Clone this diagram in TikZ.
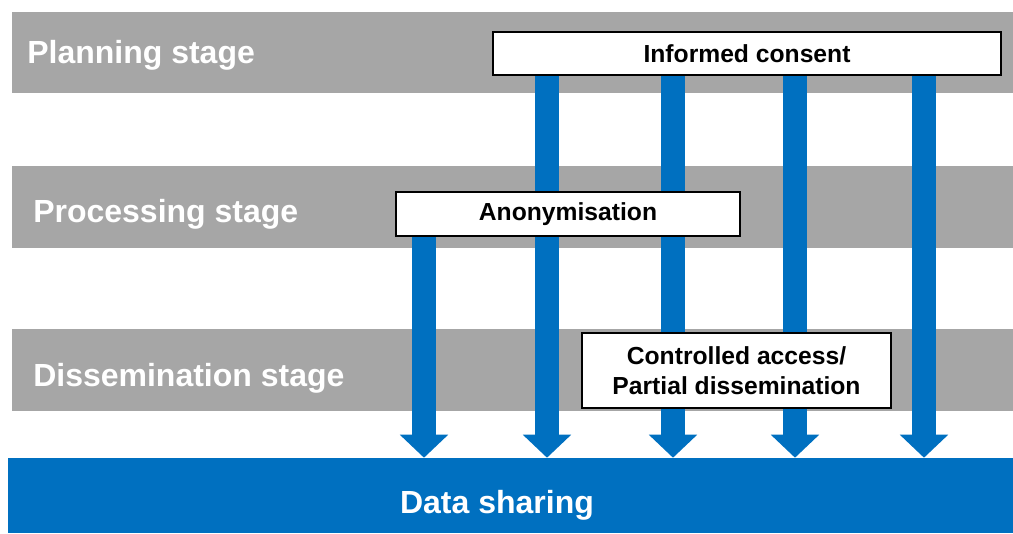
\documentclass[tikz,border=0pt]{standalone}
\usepackage{fontspec}
\setmainfont{Liberation Sans}
\usetikzlibrary{arrows.meta}
\definecolor{stageGray}{HTML}{A6A6A6}
\definecolor{shareBlue}{HTML}{0070C0}
\pgfdeclarelayer{bands}
\pgfdeclarelayer{flows}
\pgfsetlayers{bands,flows,main}
\tikzset{%
	band/.style     = {fill=stageGray}, % stage band
	stage/.style    = {anchor=base west, inner sep=0pt, text=white, font=\fontsize{24}{28}\selectfont\bfseries},
	measure/.style  = {draw=black, line width=1pt, fill=white, rectangle, align=center, inner sep=0pt, font=\fontsize{18.5}{22.5}\selectfont\bfseries},
	sharebar/.style = {fill=shareBlue, rectangle, inner sep=0pt},
	flow/.style     = {draw=shareBlue, line width=18pt, -{Triangle[width=35.25pt,length=17.25pt]}},
}

\begin{document}
\begin{tikzpicture}[x=0.75pt,y=-0.75pt]
	\useasboundingbox (0,0) rectangle (1013,533);
	% stage bands
	\begin{pgfonlayer}{bands}
		\path[band] (12,12) rectangle (1013,93);
		\path[band] (12,166) rectangle (1013,248);
		\path[band] (12,329) rectangle (1013,411);
	\end{pgfonlayer}
	\node [stage] (plan) at (27,63) {Planning stage};
	\node [stage] (proc) at (33,222) {Processing stage};
	\node [stage] (diss) at (33,386) {Dissemination stage};
	
	\node [sharebar,minimum width=753.75pt,minimum height=56.25pt] (share) at (510.5,495.5) {};
	\node [stage,anchor=base] (sharetxt) at (497,513) {Data sharing};
	
	\node [measure,minimum width=381pt,minimum height=32.25pt] (consent) at (747,53.5) {Informed consent};
	\node [measure,minimum width=258pt,minimum height=33pt] (anon) at (568,214) {Anonymisation};
	\node [measure,minimum width=231.75pt,minimum height=56.25pt] (ctrl) at (736.5,370.5) {Controlled access/\\Partial dissemination};
	
	\foreach \n/\x in {f0/424,f1/547,f2/673,f3/795,f4/924}
		\coordinate (\n) at (\x,0);
	
	\begin{pgfonlayer}{flows}
		\draw[flow] (anon.south -| f0) -- (share.north -| f0);
		\foreach \n in {f1,f2,f3,f4}
			\draw[flow] (consent.south -| \n) -- (share.north -| \n);
	\end{pgfonlayer}
\end{tikzpicture}
\end{document}
